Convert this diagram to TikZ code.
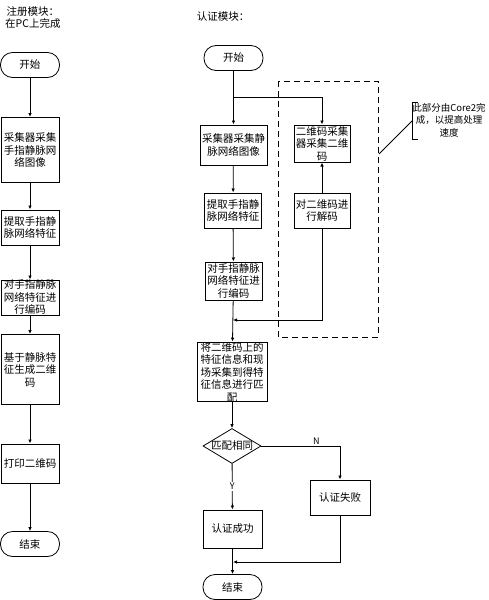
\documentclass[tikz,border=0pt]{standalone}
\usepackage{fontspec}
\setmainfont{Noto Sans CJK SC}
\usetikzlibrary{shapes.geometric,arrows.meta}

\begin{document}
\begin{tikzpicture}[x=1pt, y=-1pt,
    every node/.style={font=\fontsize{10.5}{12.5}\selectfont, align=center, inner sep=0pt},
    box/.style={draw, line width=1pt, minimum width=#1},
    box/.default=58pt,
    term/.style={draw, line width=0.8pt, rounded corners=12pt, minimum width=59pt, minimum height=25pt},
    decide/.style={draw, diamond, line width=0.8pt, minimum width=58pt, minimum height=35pt, aspect=1.66},
    flow/.style={line width=0.8pt, -{Latex[length=4pt,width=3.5pt]}},
    link/.style={line width=0.8pt}]
    \useasboundingbox (0,0) rectangle (489,600);

    % registration column
    \node[anchor=north west] at (5,6)(regtitle) {注册模块：\\在PC上完成};
    \node[term] at (30,65)(regstart) {开始};
    \node[box, minimum height=65pt] at (30,150)(reg1) {采集器采集\\手指静脉网\\络图像};
    \node[box, minimum height=35pt] at (30,227.5)(reg2) {提取手指静\\脉网络特征};
    \node[box, minimum height=35pt] at (30,297.5)(reg3) {对手指静脉\\网络特征进\\行编码};
    \node[box, minimum height=70pt] at (30,369.5)(reg4) {基于静脉特\\征生成二维\\码};
    \node[box, minimum height=39pt] at (30,463.5)(reg5) {打印二维码};
    \node[term] at (30,544)(regend) {结束};

    \draw[flow] (regstart) -- (reg1);
    \draw[flow] (reg1) -- (reg2);
    \draw[flow] (reg2) -- (reg3);
    \draw[flow] (reg3) -- (reg4);
    \draw[flow] (reg4) -- (reg5);
    \draw[flow] (reg5) -- (regend);

    % authentication column
    \node at (223,17)(authtitle) {认证模块：};
    \node[term] at (233.5,58)(authstart) {开始};
    \node[box=67pt, minimum height=40pt] at (233.5,145)(auth1) {采集器采集静\\脉网络图像};
    \node[box=57pt, minimum height=35pt] at (233,210.5)(auth2) {提取手指静\\脉网络特征};
    \node[box=57pt, minimum height=38pt] at (233.5,281)(auth3) {对手指静脉\\网络特征进\\行编码};
    \node[box=70pt, minimum height=56pt] at (232,372)(match) {将二维码上的\\特征信息和现\\场采集到得特\\征信息进行匹\\配};
    \node[decide] at (232,446)(same) {匹配相同};
    \node[box=59pt, minimum height=38pt] at (232.5,529)(pass) {认证成功};
    \node[box=60pt, minimum height=35pt] at (340,497.5)(fail) {认证失败};
    \node[term] at (232.5,587)(authend) {结束};

    % part done by Core2
    \node[box=56pt, minimum height=37pt] at (322,143.5)(qrread) {二维码采集\\器采集二维\\码};
    \node[box=56pt, minimum height=35pt] at (322,210.5)(qrdecode) {对二维码进\\行解码};
    \draw[line width=0.8pt, dash pattern=on 6pt off 4pt] (278,81) rectangle (378,337);
    \node[font=\fontsize{9.5}{12.5}\selectfont] at (449,120)(note) {此部分由Core2完\\成，以提高处理\\速度};
    \draw[link] (418,102) -- (412,102) -- (412,139) -- (418,139);
    \coordinate (noteend) at (379,154);
    \draw[link] (412,121) -- (noteend);

    \coordinate (fork) at (233,97);
    \coordinate (joinin) at (233,320);
    \draw[flow] (authstart) -- (auth1);
    \draw[flow] (fork) -| (qrread);
    \draw[flow] (auth1) -- (auth2);
    \draw[flow] (auth2) -- (auth3);
    \draw[flow] (auth3) -- (match);
    \draw[flow] (qrdecode) -- (qrread);
    \draw[flow] (qrdecode.south) |- (joinin);
    \draw[flow] (match) -- (same);
    \draw[flow] (same.east) -| node[pos=0.35, above=1pt, font=\fontsize{9}{10}\selectfont]{N} (fail.north);
    \draw[flow] (same) -- node[midway, fill=white, inner sep=1pt, font=\fontsize{9}{10}\selectfont]{Y} (pass);
    \draw[flow] (pass) -- (authend);
    \coordinate (joinend) at (233,562);
    \draw[flow] (fail.south) |- (joinend);

\end{tikzpicture}
\end{document}
